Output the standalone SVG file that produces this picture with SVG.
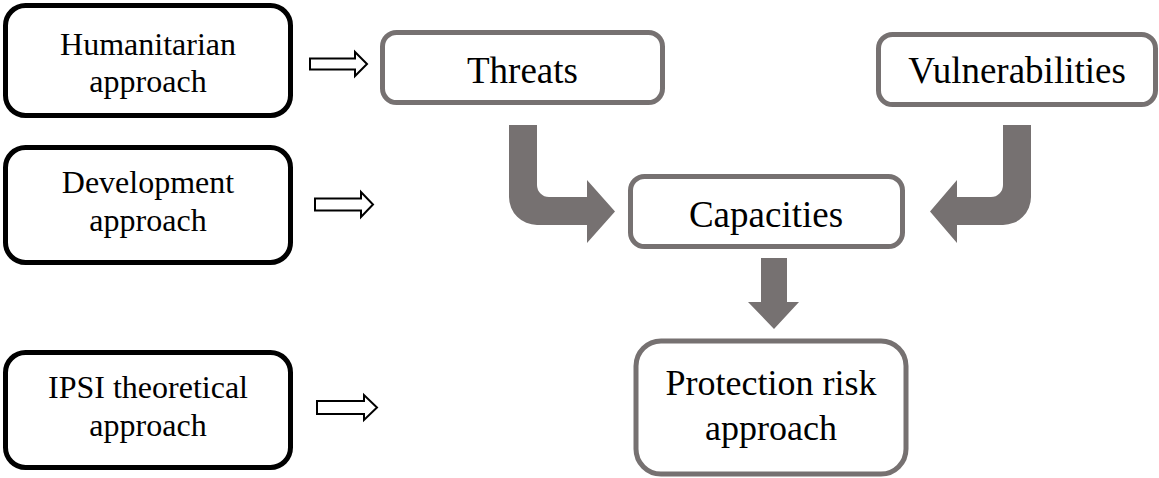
<svg xmlns="http://www.w3.org/2000/svg" width="1159" height="478" viewBox="0 0 1159 478">
<style>
.bk{fill:#fff;stroke:#000;stroke-width:5}
.gr{fill:#fff;stroke:#767171;stroke-width:5}
.t{font-family:"Liberation Serif","Times New Roman",serif;fill:#000;text-anchor:middle}
.s{font-size:32px}
.b{font-size:37px}
.p{font-size:36px}
.ha{fill:#fff;stroke:#000;stroke-width:2}
.ga{fill:#767171}
</style>
<rect width="1159" height="478" fill="#fff"/>
<g id="humanitarian">
<rect class="bk" x="5.5" y="5.5" width="285" height="110" rx="20"/>
<text class="t s" x="148" y="55">Humanitarian</text>
<text class="t s" x="148" y="92">approach</text>
</g>
<g id="development">
<rect class="bk" x="5.5" y="147.5" width="285" height="115" rx="20"/>
<text class="t s" x="148" y="193">Development</text>
<text class="t s" x="148" y="231">approach</text>
</g>
<g id="ipsi">
<rect class="bk" x="5.5" y="352.5" width="285" height="115" rx="20"/>
<text class="t s" x="148" y="398">IPSI theoretical</text>
<text class="t s" x="148" y="436">approach</text>
</g>
<g id="threats">
<rect class="gr" x="382.5" y="32.5" width="280" height="70" rx="14"/>
<text class="t b" x="522.5" y="83">Threats</text>
</g>
<g id="vulnerabilities">
<rect class="gr" x="878.5" y="34.5" width="277" height="70" rx="14"/>
<text class="t b" x="1017" y="83">Vulnerabilities</text>
</g>
<g id="capacities">
<rect class="gr" x="630.5" y="176.5" width="272" height="70" rx="14"/>
<text class="t b" x="766" y="227">Capacities</text>
</g>
<g id="protection">
<rect class="gr" x="636" y="341" width="270" height="133" rx="25"/>
<text class="t p" x="771" y="395">Protection risk</text>
<text class="t p" x="771" y="440">approach</text>
</g>
<g id="connectors">
<path class="ha" d="M310,58.5 H355 V52 L367,64 L355,76 V69.5 H310 Z"/>
<path class="ha" d="M315,198.5 H361 V192 L373,204.5 L361,217 V210.5 H315 Z"/>
<path class="ha" d="M317,401 H364 V395 L377,407.5 L364,420 V414 H317 Z"/>
<path class="ga" d="M509,125 H537 V185 A12,12 0 0 0 549,197 H587 V180 L615,211.5 L587,243 V225 H537 A28,28 0 0 1 509,197 Z"/>
<path class="ga" d="M1031,125 H1003 V185 A12,12 0 0 1 991,197 H957 V180 L930,211.5 L957,243 V225 H1003 A28,28 0 0 0 1031,197 Z"/>
<path class="ga" d="M761,258 H787 V302 H799 L774,329 L748,302 H761 Z"/>
</g>
</svg>
